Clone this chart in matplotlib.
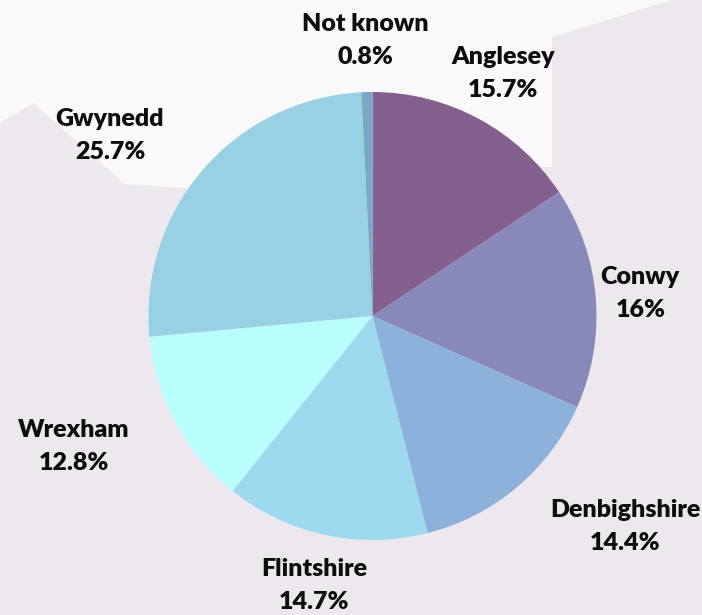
import numpy as np
import matplotlib
matplotlib.use("Agg")
import matplotlib.pyplot as plt
from matplotlib.patches import Polygon

categories = ["Anglesey", "Conwy", "Denbighshire", "Flintshire", "Wrexham", "Gwynedd", "Not known"]
values = [15.7, 16, 14.4, 14.7, 12.8, 25.7, 0.8]
value_labels = ["15.7%", "16%", "14.4%", "14.7%", "12.8%", "25.7%", "0.8%"]
colors = ["#84608f", "#8888b9", "#8cb1da", "#9dd9ef", "#b8fefd", "#98d1e3", "#7ba7c6"]

# label placement (radius factor, horizontal alignment)
label_r = [1.23, 1.20, 1.23, 1.23, 1.23, 1.23, 1.23]
label_ha = ["center", "center", "left", "center", "right", "right", "center"]

W, H = 702, 615
cx, cy, R = 372.5, 316, 224

fig = plt.figure(figsize=(W / 100, H / 100), dpi=100)
fig.patch.set_facecolor("#ede8ee")

# light background shape (decorative)
bg_px = [(0, 0), (672, 0), (552, 37), (552, 167), (450, 167), (187, 188),
         (125, 184), (33, 103), (0, 123)]
bg = Polygon([(x / W, 1 - y / H) for x, y in bg_px], closed=True,
             transform=fig.transFigure, facecolor="#f9f9fb", edgecolor="none", zorder=-5)
fig.patches.append(bg)

ax = fig.add_axes([0, 0, 1, 1])
ax.set_zorder(1)
ax.set_facecolor("none")
ax.axis("off")

wedges, _ = ax.pie(values, colors=colors, startangle=90, counterclock=False,
                   radius=1.0, center=(0, 0), wedgeprops=dict(linewidth=0))
ax.set_aspect("equal")
ax.set_xlim(-cx / R, (W - cx) / R)
ax.set_ylim(-(H - cy) / R, cy / R)

for w, name, pct, r, ha in zip(wedges, categories, value_labels, label_r, label_ha):
    mid = np.deg2rad((w.theta1 + w.theta2) / 2)
    x, y = r * np.cos(mid), r * np.sin(mid)
    ax.text(x, y, f"{name}\n{pct}", ha=ha, va="center", multialignment="center",
            fontsize=18, fontweight="heavy", family=["Lato", "DejaVu Sans"],
            color="#0d0d0d", linespacing=1.6)

fig.savefig("out.png", dpi=100, facecolor=fig.get_facecolor())
